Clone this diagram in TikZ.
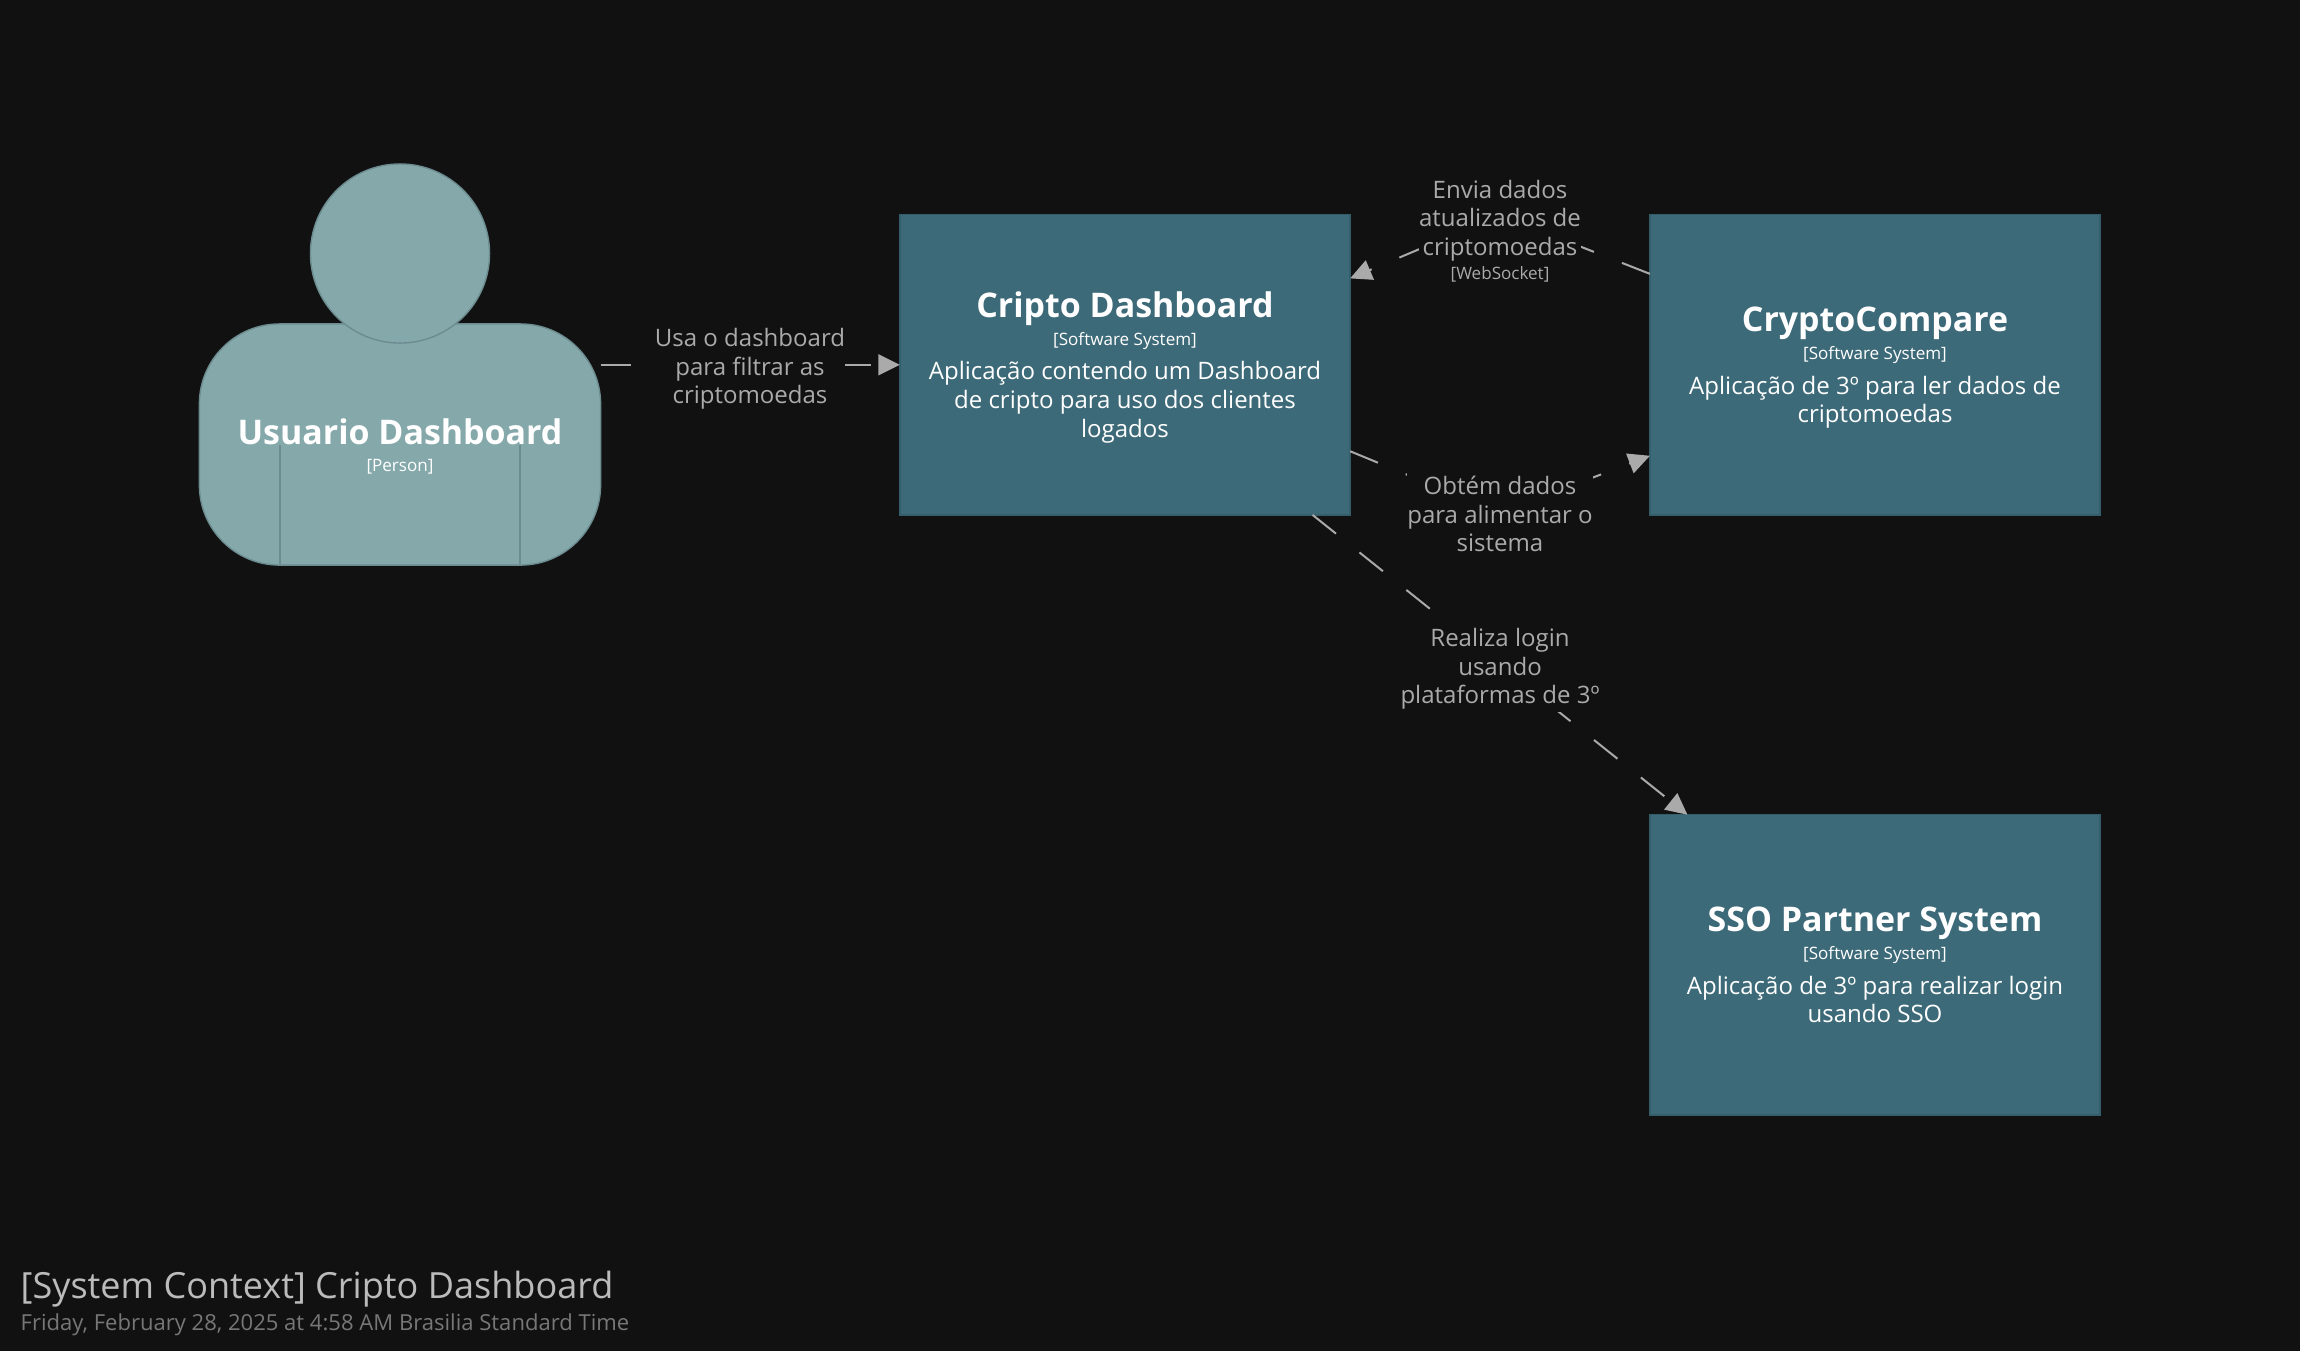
\documentclass[tikz,border=0pt]{standalone}
\usepackage{fontspec}
\setmainfont{Open Sans}
\usepackage{xcolor}
\usepackage{tikz}
\usetikzlibrary{arrows.meta, positioning}
\definecolor{pagebg}{RGB}{17,17,17}
\definecolor{sysfill}{RGB}{61,106,120}
\definecolor{sysframe}{RGB}{53,94,107}
\definecolor{userfill}{RGB}{133,168,171}
\definecolor{userframe}{RGB}{108,140,144}
\definecolor{edgegray}{RGB}{170,170,170}
\definecolor{titlegray}{RGB}{187,187,187}
\definecolor{dategray}{RGB}{119,119,119}
\newcommand{\namefont}{\fontsize{9.65}{11}\selectfont\bfseries}
\newcommand{\typefont}{\fontsize{4.85}{6}\selectfont}
\newcommand{\bodyfont}{\fontsize{6.83}{8.15}\selectfont}
\newcommand{\sysname}[1]{{\namefont\rule{0pt}{8.7pt}#1}}
\tikzset{
  sysbox/.style={rectangle, draw=sysframe, fill=sysfill, text=white,
    minimum width=4.5cm, minimum height=3cm, outer sep=0pt,
    align=center, inner sep=0pt, line width=0.4pt, font=\bodyfont},
  userpart/.style={draw=userframe, fill=userfill, line width=0.4pt, outer sep=0pt},
  edgelabel/.style={fill=pagebg, text=edgegray, align=center, inner sep=0pt, font=\bodyfont},
  relation/.style={-{Triangle[length=6.1pt, width=5.9pt]}, color=edgegray,
    line width=0.57pt, dash pattern=on 8.54pt off 8.54pt}
}
\begin{document}
\begin{tikzpicture}[x=0.01cm, y=-0.01cm]
  \path[use as bounding box] (0,0) rectangle (2300,1350);
  \fill[pagebg] (-10,-10) rectangle (2310,1360);

  % Person
  \node[userpart, rectangle, rounded corners=0.8cm, minimum width=4.01cm, minimum height=2.41cm] (userbody) at (400,444.5) {};
  \draw[userframe, line width=0.4pt] (280,445) -- (280,565);
  \draw[userframe, line width=0.4pt] (520,445) -- (520,565);
  \node[userpart, circle, minimum size=1.79cm, inner sep=0pt] (userhead) at (400,253.5) {};
  \node[text=white, align=center, inner sep=0pt, font=\bodyfont] (usertext) at (400,446) {{\namefont Usuario Dashboard}\\[-0.46pt]{\typefont [Person]}};

  % Systems
  \node[sysbox] (cripto) at (1125,364.8) {\sysname{Cripto Dashboard}\\[-0.1pt]{\typefont [Software System]}\\[1.6pt]Aplicação contendo um Dashboard\\de cripto para uso dos clientes\\logados};
  \node[sysbox] (crypto) at (1875,364.8) {\sysname{CryptoCompare}\\[-0.1pt]{\typefont [Software System]}\\[1.6pt]Aplicação de 3º para ler dados de\\criptomoedas};
  \node[sysbox] (sso) at (1875,964.8) {\sysname{SSO Partner System}\\[-0.1pt]{\typefont [Software System]}\\[1.6pt]Aplicação de 3º para realizar login\\usando SSO\vphantom{p}};

  % Relations
  \coordinate (enviabend) at (1500,215);
  \coordinate (obtembend) at (1500,513);
  \draw[relation] (userbody.east |- cripto.west) -- (cripto.west);
  \draw[relation] (crypto.158) -- (enviabend) -- (cripto.21.6);
  \draw[relation] (cripto.-21.6) -- (obtembend) -- (crypto.-158);
  \draw[relation] (cripto) -- (sso);

  % Relation labels
  \node[edgelabel] (usalabel) at (750,369) {Usa o dashboard\\para filtrar as\\criptomoedas};
  \node[edgelabel] (envialabel) at (1500,231) {Envia dados\\atualizados de\\criptomoedas\\[-1.25pt]{\typefont [WebSocket]}};
  \node[edgelabel, inner ysep=1pt] (obtemlabel) at (1500,514) {Obtém dados\\para alimentar o\\sistema};
  \node[edgelabel, inner ysep=0.6pt] (loginlabel) at (1500,669) {Realiza login\\usando\\plataformas de 3º};

  % Title
  \node[anchor=base west, inner sep=0pt, text=titlegray, font=\fontsize{10.25}{12}\selectfont] (titletext) at (20,1298.5) {[System Context] Cripto Dashboard};
  \node[anchor=base west, inner sep=0pt, text=dategray, font=\fontsize{6.27}{8}\selectfont] (datetext) at (20,1330.5) {Friday, February 28, 2025 at 4:58 AM Brasilia Standard Time};
\end{tikzpicture}
\end{document}
